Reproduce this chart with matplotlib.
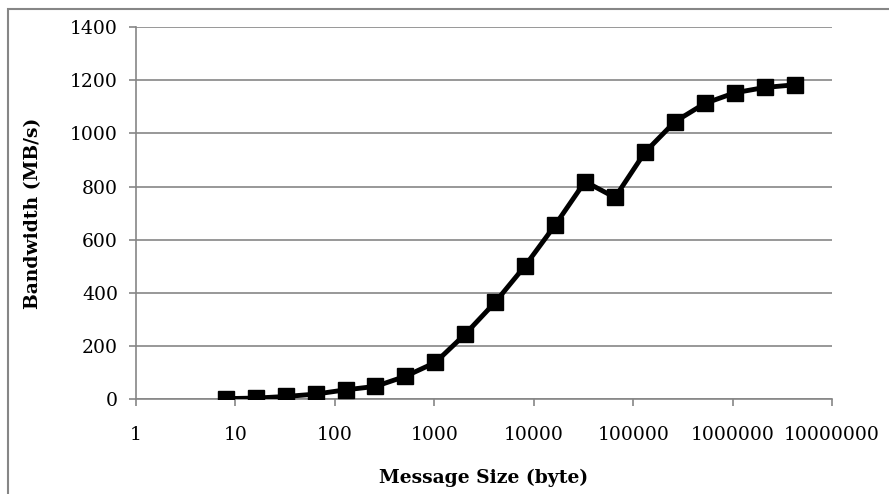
import matplotlib
matplotlib.use('Agg')
import matplotlib.pyplot as plt
from matplotlib.patches import Rectangle

# Message sizes (bytes) and measured bandwidth (MB/s)
sizes = [8, 16, 32, 64, 128, 256, 512, 1024, 2048, 4096, 8192, 16384, 32768,
         65536, 131072, 262144, 524288, 1048576, 2097152, 4194304]
bandwidth = [2, 4, 10, 19, 35, 48, 86, 138, 245, 365, 502, 655, 819,
             759, 929, 1044, 1113, 1153, 1173, 1183]

x_ticks = [1, 10, 100, 1000, 10000, 100000, 1000000, 10000000]
y_ticks = [0, 200, 400, 600, 800, 1000, 1200, 1400]

GRAY = '#868686'

plt.rcParams['font.family'] = ['DejaVu Serif']

fig = plt.figure(figsize=(8.89, 4.94), dpi=100)
ax = fig.add_axes([0.153, 0.192, 0.783, 0.753])

# outer chart frame (cut off at right/bottom like the reference)
fig.patches.append(Rectangle((8 / 889, -0.1), 1.2, 1 - 9 / 494 + 0.1,
                             transform=fig.transFigure, fill=False,
                             edgecolor=GRAY, linewidth=1.5))

ax.plot(sizes, bandwidth, color='black', linewidth=3.5, marker='s',
        markersize=12, markerfacecolor='black', markeredgecolor='black', zorder=3)

ax.set_xscale('log')
ax.set_xlim(1, 1e7)
ax.set_ylim(0, 1400)
ax.set_xticks(x_ticks)
ax.set_xticklabels([str(v) for v in x_ticks])
ax.minorticks_off()
ax.set_yticks(y_ticks)
ax.set_yticklabels([str(v) for v in y_ticks])

ax.grid(axis='y', color=GRAY, linewidth=1.2)
ax.set_axisbelow(True)
for s in ['top', 'right']:
    ax.spines[s].set_visible(False)
for s in ['left', 'bottom']:
    ax.spines[s].set_color(GRAY)
    ax.spines[s].set_linewidth(1.2)

ax.tick_params(axis='both', colors=GRAY, labelcolor='black', labelsize=13.5,
               length=5, width=1.2)
ax.tick_params(axis='x', pad=14)
ax.tick_params(axis='y', pad=8)

ax.set_xlabel('Message Size (byte)', fontsize=13.5, fontweight='bold', labelpad=18)
ax.set_ylabel('Bandwidth (MB/s)', fontsize=13.5, fontweight='bold', labelpad=20)

fig.savefig('out.png', dpi=100)
